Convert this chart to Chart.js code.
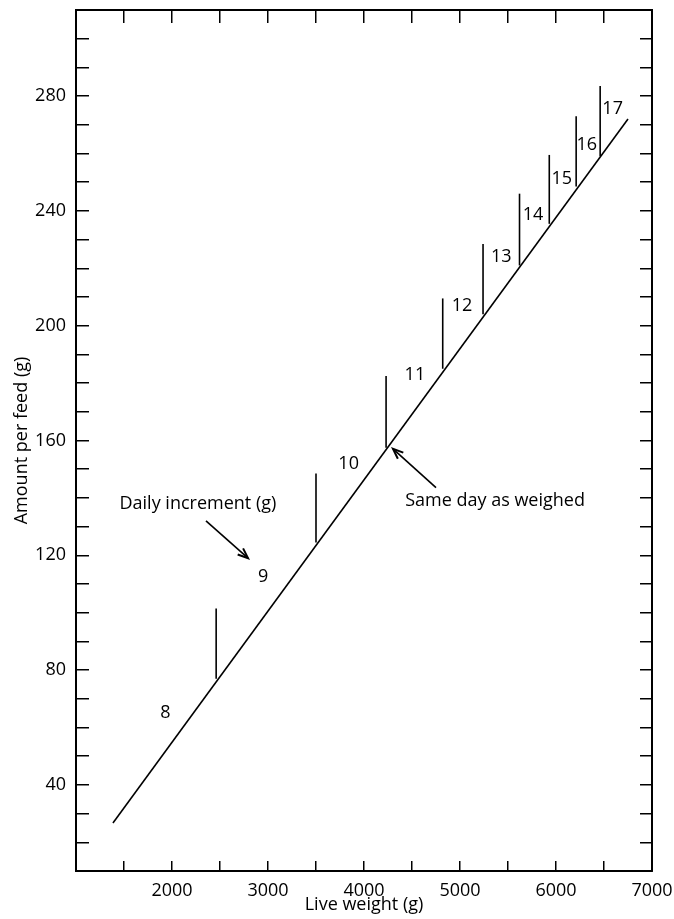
<!DOCTYPE html>
<html>
<head>
<meta charset="utf-8">
<script src="https://cdn.jsdelivr.net/npm/chart.js@4/dist/chart.umd.min.js"></script>
<style>
  html, body { margin: 0; padding: 0; background: #fff; }
  #wrap { width: 674px; height: 919px; position: relative; }
</style>
</head>
<body>
<div id="wrap"><canvas id="chartFeed"></canvas></div>
<script>
// main feeding line (live weight g -> amount per feed g)
const lineWeight = [1385, 6750];
const lineFeed = [26.7, 272];

// vertical steps where the daily increment changes
const stepWeight = [2460, 3500, 4230, 4820, 5240, 5620, 5930, 6210, 6460];
const stepLow = [77, 124.5, 157.5, 185, 204, 221, 235.5, 248.5, 259];
const stepHigh = [101.5, 148.5, 182.5, 209.5, 228.5, 246, 259.5, 273, 283.5];

// daily increment labels and where they sit
const incrementText = ['8', '9', '10', '11', '12', '13', '14', '15', '16', '17'];
const incrementWeight = [1930, 2950, 3840, 4530, 5020, 5430, 5760, 6060, 6320, 6590];
const incrementFeed = [65, 112.5, 152, 183, 207, 224, 238.5, 251, 263, 275.5];

// notes with arrows
const noteText = ['Daily increment (g)', 'Same day as weighed'];
const noteWeight = [2270, 5365];
const noteFeed = [138, 139];
const arrowFrom = [[2354, 132], [4750, 143.6]];
const arrowTo = [[2792, 119], [4302, 157.1]];

const FONT = '"Open Sans", "DejaVu Sans", sans-serif';
const SIZE = 18;
const INK = '#000';

const annotations = {
    id: 'annotations',
    afterDatasetsDraw(chart) {
        const ctx = chart.ctx;
        const sx = chart.scales.x;
        const sy = chart.scales.y;
        ctx.save();
        ctx.fillStyle = INK;
        ctx.strokeStyle = INK;
        ctx.font = SIZE + 'px ' + FONT;
        ctx.textAlign = 'center';
        ctx.textBaseline = 'middle';

        incrementText.forEach((t, i) => {
            ctx.fillText(t, sx.getPixelForValue(incrementWeight[i]), sy.getPixelForValue(incrementFeed[i]));
        });
        noteText.forEach((t, i) => {
            ctx.fillText(t, sx.getPixelForValue(noteWeight[i]), sy.getPixelForValue(noteFeed[i]));
        });

        arrowFrom.forEach((f, i) => {
            const x1 = sx.getPixelForValue(f[0]), y1 = sy.getPixelForValue(f[1]);
            const x2 = sx.getPixelForValue(arrowTo[i][0]), y2 = sy.getPixelForValue(arrowTo[i][1]);
            ctx.lineWidth = 1.6;
            ctx.beginPath();
            ctx.moveTo(x1, y1);
            ctx.lineTo(x2, y2);
            ctx.stroke();
            const a = Math.atan2(y2 - y1, x2 - x1);
            const len = 11, spread = 0.38;
            ctx.lineWidth = 2;
            ctx.beginPath();
            ctx.moveTo(x2 - len * Math.cos(a - spread), y2 - len * Math.sin(a - spread));
            ctx.lineTo(x2, y2);
            ctx.lineTo(x2 - len * Math.cos(a + spread), y2 - len * Math.sin(a + spread));
            ctx.stroke();
        });
        ctx.restore();
    }
};

// fixed box sizes so the plot area lands where the reference has it
function fijar(size, prop) {
    return s => {
        s[prop] = size;
        s.paddingLeft = 0;
        s.paddingRight = 0;
        s.paddingTop = 0;
        s.paddingBottom = 0;
    };
}

function crearEje(pos, min, max, step, tickLen, labelFn, padding) {
    return {
        type: 'linear',
        position: pos,
        min: min,
        max: max,
        ticks: {
            stepSize: step,
            autoSkip: false,
            maxRotation: 0,
            display: !!labelFn,
            padding: padding,
            color: INK,
            font: { family: FONT, size: SIZE },
            callback: labelFn || (() => '')
        },
        grid: {
            drawOnChartArea: false,
            drawTicks: true,
            tickLength: tickLen,
            color: INK,
            lineWidth: 1.5
        },
        border: { display: true, color: INK, width: 2 }
    };
}

const datasets = [{
    data: lineWeight.map((w, i) => ({ x: w, y: lineFeed[i] })),
    showLine: true,
    borderColor: INK,
    borderWidth: 1.6,
    pointRadius: 0
}];
stepWeight.forEach((w, i) => {
    datasets.push({
        data: [{ x: w, y: stepLow[i] }, { x: w, y: stepHigh[i] }],
        showLine: true,
        borderColor: INK,
        borderWidth: 1.6,
        pointRadius: 0
    });
});

const xAxis = crearEje('bottom', 1000, 7000, 500, -10,
    v => (v % 1000 === 0 && v > 1000) ? String(v) : '', 19);
xAxis.title = {
    display: true, text: 'Live weight (g)', color: INK,
    font: { family: FONT, size: SIZE, lineHeight: 1.2 }, padding: { top: 0, bottom: 3 }
};
xAxis.afterFit = fijar(48, 'height');

const yAxis = crearEje('left', 10, 310, 10, -13,
    v => (v % 40 === 0 && v >= 40 && v <= 280) ? String(v) : '', 23);
yAxis.title = {
    display: true, text: 'Amount per feed (g)', color: INK,
    font: { family: FONT, size: SIZE, lineHeight: 1.2 }, padding: { top: 11, bottom: 0 }
};
yAxis.afterFit = fijar(76, 'width');

const xTop = crearEje('top', 1000, 7000, 500, -13, null, 0);
xTop.afterFit = fijar(10, 'height');
const yRight = crearEje('right', 10, 310, 10, -12, null, 0);
yRight.afterFit = fijar(22, 'width');

new Chart(document.getElementById('chartFeed').getContext('2d'), {
    type: 'scatter',
    data: { datasets: datasets },
    options: {
        responsive: true,
        maintainAspectRatio: false,
        animation: false,
        layout: { padding: 0 },
        plugins: {
            legend: { display: false },
            tooltip: { enabled: false }
        },
        scales: { x: xAxis, y: yAxis, x2: xTop, y2: yRight }
    },
    plugins: [annotations]
});
</script>
</body>
</html>
